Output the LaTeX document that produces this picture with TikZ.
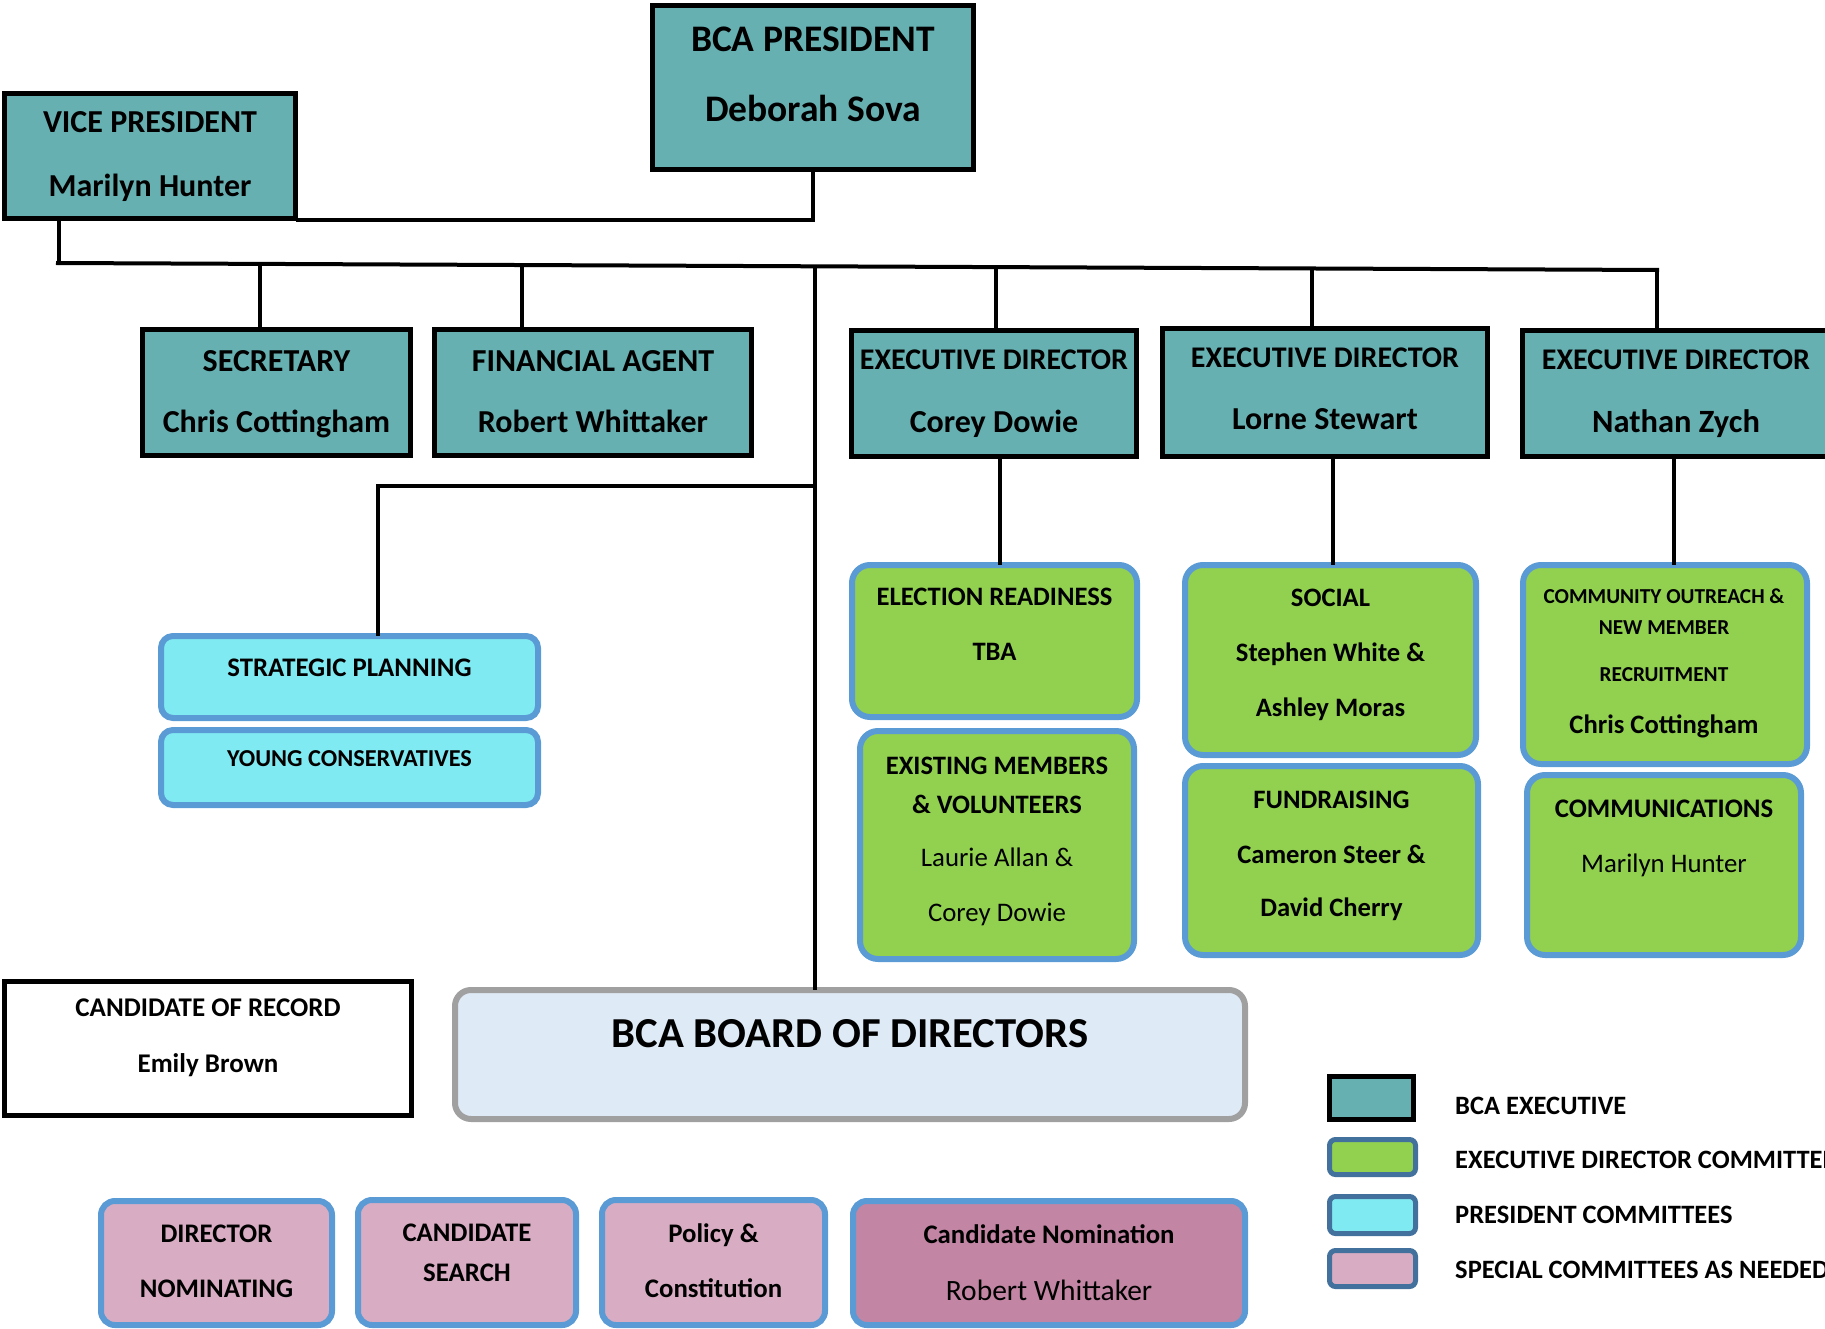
\documentclass[tikz,border=0pt]{standalone}
\usepackage{fontspec}
\setmainfont{Carlito}
\usetikzlibrary{calc}
\definecolor{tealc}{RGB}{102,176,178}
\definecolor{greenc}{RGB}{146,208,80}
\definecolor{cyanc}{RGB}{128,234,242}
\definecolor{pinkc}{RGB}{216,173,195}
\definecolor{mauvec}{RGB}{194,133,163}
\definecolor{boardc}{RGB}{222,234,246}
\definecolor{grayc}{RGB}{160,160,160}
\definecolor{bluec}{RGB}{91,155,213}
\definecolor{dbluec}{RGB}{65,113,156}
\begin{document}
\begin{tikzpicture}[x=1pt,y=-1pt,
  box/.style={inner sep=0pt,outer sep=0pt},
  execbox/.style={box,draw=black,line width=5pt,fill=tealc},
  recbox/.style={box,draw=black,line width=5pt,fill=white},
  grnbox/.style={box,draw=bluec,line width=6pt,fill=greenc,rounded corners=18pt},
  cyanbox/.style={box,draw=bluec,line width=6pt,fill=cyanc,rounded corners=12pt},
  pinkbox/.style={box,draw=bluec,line width=6pt,fill=pinkc,rounded corners=14pt},
  mauvebox/.style={box,draw=bluec,line width=6pt,fill=mauvec,rounded corners=14pt},
  boardbox/.style={box,draw=grayc,line width=6pt,fill=boardc,rounded corners=16pt},
  lgexec/.style={box,draw=black,line width=5pt,fill=tealc},
  lgrnd/.style={box,draw=dbluec,line width=5pt,rounded corners=6pt},
  conn/.style={line width=4pt,draw=black},
  bfs/.style={inner sep=0pt,anchor=base,font=\fontsize{#1pt}{#1pt}\selectfont\bfseries},
  rfs/.style={inner sep=0pt,anchor=base,font=\fontsize{#1pt}{#1pt}\selectfont},
  lgt/.style={inner sep=0pt,anchor=base west,font=\fontsize{26.5pt}{26.5pt}\selectfont\bfseries}
]
\useasboundingbox (0,0) rectangle (1825,1329);
\clip (0,0) rectangle (1825,1329);

% ---------- junction coordinates ----------
\coordinate (busL) at (56,263);
\coordinate (busR) at (1659,270);
\coordinate (vpj) at (813,220);
\coordinate (jvp) at (59,263);
\coordinate (jsec) at (260,264);
\coordinate (jfin) at (522,265);
\coordinate (jmid) at (815,265);
\coordinate (jedA) at (996,267);
\coordinate (jedB) at (1312,268.5);
\coordinate (jedC) at (1657,270);
\coordinate (xedAd) at (1000,0);
\coordinate (xedBd) at (1333,0);
\coordinate (xedCd) at (1674,0);
\coordinate (spj) at (815,486);
\coordinate (spc) at (378,486);

% ---------- boxes ----------
\node[execbox,minimum width=321pt,minimum height=164pt] (pres) at (813,87.5) {};
\node[execbox,minimum width=291pt,minimum height=125pt] (vp) at (150,156) {};
\node[execbox,minimum width=268pt,minimum height=126pt] (sec) at (276.5,392.5) {};
\node[execbox,minimum width=317pt,minimum height=126pt] (fin) at (593,392.5) {};
\node[execbox,minimum width=285pt,minimum height=126pt] (edA) at (994,393.5) {};
\node[execbox,minimum width=325pt,minimum height=128pt] (edB) at (1325,392.5) {};
\node[execbox,minimum width=307pt,minimum height=126pt] (edC) at (1676,393.5) {};

\node[grnbox,minimum width=285pt,minimum height=152pt] (elec) at (994.5,641) {};
\node[grnbox,minimum width=274pt,minimum height=228pt] (exist) at (997,845) {};
\node[grnbox,minimum width=291pt,minimum height=190pt] (social) at (1330.5,660) {};
\node[grnbox,minimum width=293pt,minimum height=189pt] (fund) at (1331.5,860.5) {};
\node[grnbox,minimum width=284pt,minimum height=199pt] (outreach) at (1665,664.5) {};
\node[grnbox,minimum width=274pt,minimum height=180pt] (commu) at (1664,865) {};

\node[cyanbox,minimum width=377pt,minimum height=82pt] (strat) at (349.5,677) {};
\node[cyanbox,minimum width=377pt,minimum height=75pt] (young) at (349.5,767.5) {};

\node[recbox,minimum width=407pt,minimum height=134pt] (crec) at (208,1048.5) {};
\node[boardbox,minimum width=790pt,minimum height=129pt] (board) at (850,1054.5) {};

\node[pinkbox,minimum width=231pt,minimum height=124pt] (dirnom) at (216.5,1263) {};
\node[pinkbox,minimum width=218pt,minimum height=125pt] (csearch) at (467,1262.5) {};
\node[pinkbox,minimum width=223pt,minimum height=125pt] (policy) at (713.5,1262.5) {};
\node[mauvebox,minimum width=392pt,minimum height=124pt] (cnom) at (1049,1263) {};

% legend swatches
\node[lgexec,minimum width=84pt,minimum height=43pt] (lgA) at (1371.5,1098) {};
\node[lgrnd,fill=greenc,minimum width=86pt,minimum height=35pt] (lgB) at (1372.5,1157) {};
\node[lgrnd,fill=cyanc,minimum width=86pt,minimum height=37pt] (lgC) at (1372.5,1215) {};
\node[lgrnd,fill=pinkc,minimum width=86pt,minimum height=36pt] (lgD) at (1372.5,1268.5) {};

% ---------- connector lines ----------
\draw[conn] (vp.east |- vpj) -- (vpj) -- (pres.south);
\draw[conn] (vp.south -| jvp) -- (jvp);
\draw[conn] (busL) -- (busR);
\draw[conn] (jsec) -- (sec.north -| jsec);
\draw[conn] (jfin) -- (fin.north -| jfin);
\draw[conn] (jmid) -- (board.north -| jmid);
\draw[conn] (jedA) -- (edA.north -| jedA);
\draw[conn] (jedB) -- (edB.north -| jedB);
\draw[conn] (jedC) -- (edC.north -| jedC);
\draw[conn] (spj) -- (spc) -- (strat.north -| spc);
\draw[conn] (edA.south -| xedAd) -- (elec.north -| xedAd);
\draw[conn] (edB.south -| xedBd) -- (social.north -| xedBd);
\draw[conn] (edC.south -| xedCd) -- (outreach.north -| xedCd);

% ---------- texts ----------
\node[bfs=37.5] (presT1) at (813,52) {BCA PRESIDENT};
\node[bfs=37.5] (presT2) at (813,122) {Deborah Sova};
\node[bfs=32] (vpT1) at (150,133) {VICE PRESIDENT};
\node[bfs=32] (vpT2) at (150,197) {Marilyn Hunter};
\node[bfs=32] (secT1) at (276.5,371) {SECRETARY};
\node[bfs=32] (secT2) at (276.5,432) {Chris Cottingham};
\node[bfs=32] (finT1) at (593,371) {FINANCIAL AGENT};
\node[bfs=32] (finT2) at (593,432) {Robert Whittaker};
\node[bfs=30] (edAT1) at (994,370) {EXECUTIVE DIRECTOR};
\node[bfs=32] (edAT2) at (994,432) {Corey Dowie};
\node[bfs=30] (edBT1) at (1325,367) {EXECUTIVE DIRECTOR};
\node[bfs=32] (edBT2) at (1325,429) {Lorne Stewart};
\node[bfs=30] (edCT1) at (1676,370) {EXECUTIVE DIRECTOR};
\node[bfs=32.5] (edCT2) at (1676,432) {Nathan Zych};

\node[bfs=26.6] (elecT1) at (994.5,605) {ELECTION READINESS};
\node[bfs=26.6] (elecT2) at (994.5,660) {TBA};
\node[bfs=26.6] (exT1) at (997,774) {EXISTING MEMBERS};
\node[bfs=26.6] (exT2) at (997,813) {\& VOLUNTEERS};
\node[rfs=26.8] (exT3) at (997,866) {Laurie Allan \&};
\node[rfs=26.8] (exT4) at (997,921) {Corey Dowie};
\node[bfs=26.6] (soT1) at (1330.5,606) {SOCIAL};
\node[bfs=26.6] (soT2) at (1330.5,661) {Stephen White \&};
\node[bfs=26.6] (soT3) at (1330.5,716) {Ashley Moras};
\node[bfs=26.6] (fuT1) at (1331.5,808) {FUNDRAISING};
\node[bfs=26.6] (fuT2) at (1331.5,863) {Cameron Steer \&};
\node[bfs=26.6] (fuT3) at (1331.5,916) {David Cherry};
\node[bfs=21.3] (ouT1) at (1664,603) {COMMUNITY OUTREACH \&};
\node[bfs=21.3] (ouT2) at (1664,634) {NEW MEMBER};
\node[bfs=21.3] (ouT3) at (1664,681) {RECRUITMENT};
\node[bfs=26.6] (ouT4) at (1664,733) {Chris Cottingham};
\node[bfs=26.8] (coT1) at (1664,817) {COMMUNICATIONS};
\node[rfs=26.8] (coT2) at (1664,872) {Marilyn Hunter};

\node[bfs=26.8] (stT) at (349.5,676) {STRATEGIC PLANNING};
\node[bfs=24.3] (yoT) at (349.5,766) {YOUNG CONSERVATIVES};

\node[bfs=27] (crT1) at (208,1016) {CANDIDATE OF RECORD};
\node[bfs=27] (crT2) at (208,1072) {Emily Brown};
\node[bfs=42.7] (boT) at (850,1047) {BCA BOARD OF DIRECTORS};

\node[bfs=26.8] (dnT1) at (216.5,1242) {DIRECTOR};
\node[bfs=26.8] (dnT2) at (216.5,1297) {NOMINATING};
\node[bfs=26.8] (csT1) at (467,1241) {CANDIDATE};
\node[bfs=26.8] (csT2) at (467,1281) {SEARCH};
\node[bfs=26.8] (pcT1) at (713.5,1242) {Policy \&};
\node[bfs=26.8] (pcT2) at (713.5,1297) {Constitution};
\node[bfs=26.8] (cnT1) at (1049,1243) {Candidate Nomination};
\node[rfs=29.5] (cnT2) at (1049,1300) {Robert Whittaker};

\node[lgt] (lgAT) at (1455,1114) {BCA EXECUTIVE};
\node[lgt] (lgBT) at (1455,1168) {EXECUTIVE DIRECTOR COMMITTEES};
\node[lgt] (lgCT) at (1455,1223) {PRESIDENT COMMITTEES};
\node[lgt] (lgDT) at (1455,1278) {SPECIAL COMMITTEES AS NEEDED};
\end{tikzpicture}
\end{document}
